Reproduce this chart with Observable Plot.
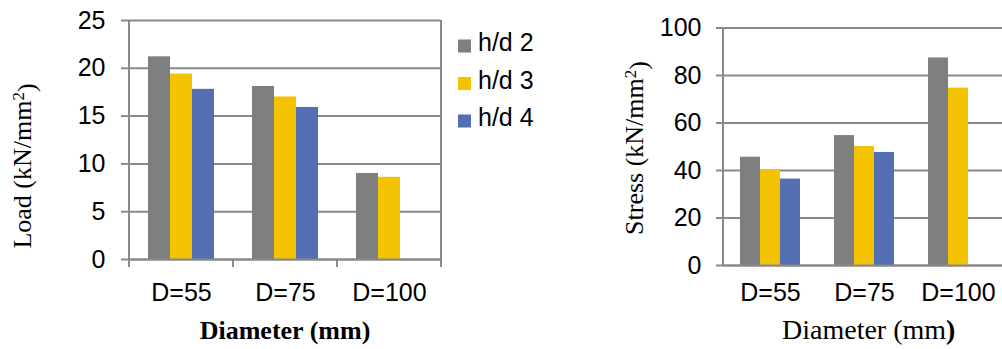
<!DOCTYPE html>
<html><head><meta charset="utf-8">
<script src="https://cdn.jsdelivr.net/npm/d3@7"></script>
<script src="https://cdn.jsdelivr.net/npm/@observablehq/plot@0.6"></script>
<style>
html,body{margin:0;padding:0;background:#fff;overflow:hidden}
#wrap{position:relative;width:1002px;height:349px;overflow:hidden;background:#fff}
#wrap > svg{position:absolute;top:0}
</style></head><body><div id="wrap"></div>
<script>
// ---- data ----
const categories = ["D=55", "D=75", "D=100"];
const series = ["h/d 2", "h/d 3", "h/d 4"];
const seriesColors = ["#7f7f7f", "#f3c200", "#5470b2"];
const loadHd2 = [21.2, 18.1, 9.0];
const loadHd3 = [19.4, 17.0, 8.6];
const loadHd4 = [17.8, 15.9, null];
const stressHd2 = [45.6, 54.7, 87.4];
const stressHd3 = [40.3, 50.1, 74.7];
const stressHd4 = [36.4, 47.6, null];
const loadTicks = [0, 5, 10, 15, 20, 25];
const stressTicks = [0, 20, 40, 60, 80, 100];
const loadTitle = ["Load (kN/mm", "2", ")"];
const stressTitle = ["Stress (kN/mm", "2", ")"];
const xTitle = "Diameter (mm)";

const GRID = "#898989";
const SANS = "'Liberation Sans', Arial, sans-serif";
const SERIF = "'Liberation Serif', 'Times New Roman', serif";

function tidy(lists) {
  const out = [];
  lists.forEach((vals, si) => vals.forEach((v, ci) => {
    if (v != null) out.push({cat: categories[ci], series: series[si], value: v});
  }));
  return out;
}

function chart(o) {
  const data = tidy(o.lists);
  const top = o.ticks[o.ticks.length - 1];
  const plot = Plot.plot({
    width: o.width, height: 349,
    marginLeft: o.marginLeft, marginRight: o.marginRight,
    marginTop: o.marginTop, marginBottom: o.marginBottom,
    style: {fontFamily: SANS, fontSize: "25px", color: "#000", background: "transparent", overflow: "visible"},
    fx: {domain: categories, padding: 0},
    x: {domain: series, paddingInner: 0, paddingOuter: o.barPad, axis: null},
    y: {domain: [0, top]},
    color: {domain: series, range: seriesColors},
    marks: [
      Plot.gridY(o.ticks, {stroke: GRID, strokeOpacity: 1, strokeWidth: 2}),
      Plot.barY(data, {fx: "cat", x: "series", y: "value", fill: "series"}),
      Plot.ruleY([0], {stroke: GRID, strokeWidth: 2}),
      Plot.axisY(o.ticks, {tickSize: o.tickSize, tickPadding: o.tickPadding, stroke: GRID, strokeWidth: 2, fill: "#000", label: null, fontSize: 25, tickFormat: d => String(d)}),
      Plot.axisFx({anchor: "bottom", tickSize: 0, tickPadding: o.labelPad, label: null, fill: "#000", fontSize: 25})
    ]
  });
  const svg = d3.select(plot);
  svg.style("left", o.left + "px");
  const fx = plot.scale("fx"), y = plot.scale("y");
  const starts = categories.map(c => fx.apply(c));
  const bounds = starts.concat([starts[starts.length - 1] + fx.bandwidth]);
  const y0 = y.apply(0), yTop = y.apply(top);
  const g = svg.append("g").attr("stroke", GRID).attr("stroke-width", 2);
  if (o.boundaryTicks) {
    bounds.forEach((b, i) => {
      const edge = i === 0 || i === bounds.length - 1;
      g.append("line").attr("x1", b).attr("x2", b)
        .attr("y1", edge ? yTop : y0).attr("y2", y0 + 8);
    });
  } else {
    g.append("line").attr("x1", bounds[0]).attr("x2", bounds[0]).attr("y1", yTop).attr("y2", y0);
  }
  return plot;
}

const wrap = document.getElementById("wrap");
wrap.appendChild(chart({
  lists: [loadHd2, loadHd3, loadHd4], ticks: loadTicks,
  left: 0, width: 460, marginLeft: 128, marginRight: 18, marginTop: 20, marginBottom: 90,
  barPad: 0.775, tickSize: 8, tickPadding: 16, labelPad: 24, boundaryTicks: true
}));
wrap.appendChild(chart({
  lists: [stressHd2, stressHd3, stressHd4], ticks: stressTicks,
  left: 460, width: 550, marginLeft: 262, marginRight: 5, marginTop: 27.5, marginBottom: 84,
  barPad: 0.745, tickSize: 7, tickPadding: 15, labelPad: 18, boundaryTicks: false
}));

// ---- titles and legend overlay ----
const ov = d3.select(wrap).append("svg").attr("width", 1002).attr("height", 349)
  .style("left", "0px").style("pointer-events", "none");

function yTitle(parts, x, y) {
  const t = ov.append("text").attr("transform", `translate(${x},${y}) rotate(-90)`)
    .attr("text-anchor", "middle").attr("font-family", SERIF).attr("font-size", 26);
  t.append("tspan").attr("dy", "0.35em").text(parts[0]);
  t.append("tspan").attr("dy", "-0.42em").attr("font-size", 17).text(parts[1]);
  t.append("tspan").attr("dy", "0.42em").text(parts[2]);
}
yTitle(loadTitle, 22, 166);
yTitle(stressTitle, 634, 148);

ov.append("text").attr("x", 285).attr("y", 339).attr("text-anchor", "middle")
  .attr("font-family", SERIF).attr("font-size", 26).attr("font-weight", "bold").text(xTitle);
const t2 = ov.append("text").attr("x", 782).attr("y", 339)
  .attr("font-family", SERIF).attr("font-size", 28);
t2.append("tspan").text(xTitle.slice(0, -1));
t2.append("tspan").attr("font-weight", "bold").text(xTitle.slice(-1));

const lg = ov.append("g");
series.forEach((s, i) => {
  const cy = 46 + i * 37.5;
  lg.append("rect").attr("x", 458).attr("y", cy - 6.5).attr("width", 13).attr("height", 13).attr("fill", seriesColors[i]);
  lg.append("text").attr("x", 478).attr("y", cy + 5).attr("font-family", SANS).attr("font-size", 25).text(s);
});
</script>
</body></html>
